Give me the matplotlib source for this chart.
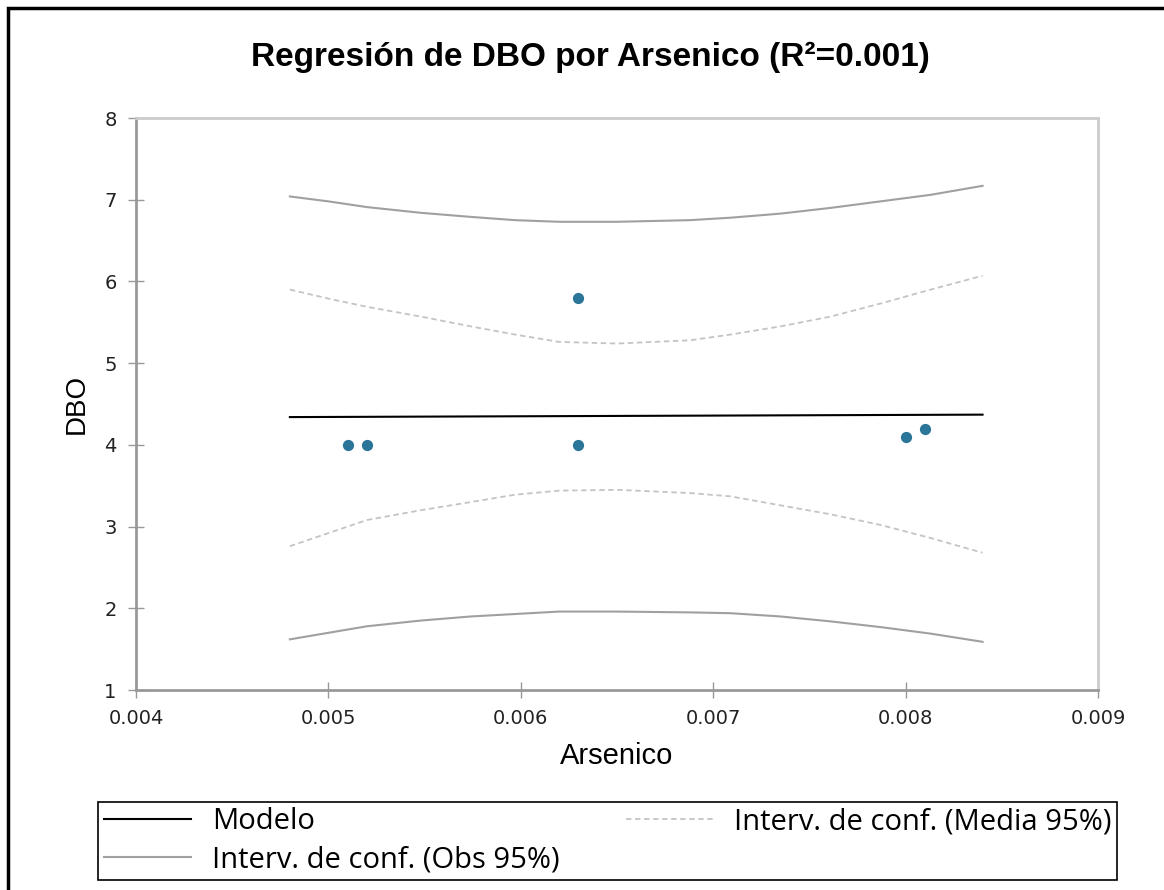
import matplotlib
matplotlib.use("Agg")
import matplotlib.pyplot as plt
from matplotlib.patches import Rectangle
from matplotlib.ticker import FormatStrFormatter

# observaciones
arsenico = [0.0051, 0.0052, 0.0063, 0.0063, 0.0080, 0.0081]
dbo = [4.0, 4.0, 5.8, 4.0, 4.1, 4.2]

# modelo y bandas
x_mod = [0.0048, 0.0084]
y_mod = [4.34, 4.37]
x_band = [0.0048, 0.0050, 0.0052, 0.00548, 0.00574, 0.00597, 0.0062, 0.0065,
          0.00688, 0.00709, 0.00735, 0.00761, 0.00787, 0.00813, 0.0084]
obs_sup = [7.04, 6.98, 6.91, 6.84, 6.79, 6.75, 6.73, 6.73,
           6.75, 6.78, 6.83, 6.90, 6.98, 7.06, 7.17]
media_sup = [5.90, 5.79, 5.69, 5.57, 5.45, 5.35, 5.26, 5.24,
             5.28, 5.35, 5.45, 5.57, 5.73, 5.90, 6.07]
media_inf = [2.76, 2.92, 3.08, 3.20, 3.30, 3.39, 3.44, 3.45,
             3.41, 3.37, 3.26, 3.15, 3.02, 2.86, 2.68]
obs_inf = [1.62, 1.70, 1.78, 1.85, 1.90, 1.93, 1.96, 1.96,
           1.95, 1.94, 1.90, 1.84, 1.77, 1.69, 1.59]

fig = plt.figure(figsize=(11.64, 8.90), dpi=100)
ax = fig.add_axes([0.1168, 0.2247, 0.8265, 0.6427])

l_mod, = ax.plot(x_mod, y_mod, color='black', lw=1.5, label='Modelo')
l_med, = ax.plot(x_band, media_sup, color='#c4c4c4', lw=1.3, ls=(0, (3, 2)),
                 label='Interv. de conf. (Media 95%)')
ax.plot(x_band, media_inf, color='#c4c4c4', lw=1.3, ls=(0, (3, 2)))
l_obs, = ax.plot(x_band, obs_sup, color='#a0a0a0', lw=1.5,
                 label='Interv. de conf. (Obs 95%)')
ax.plot(x_band, obs_inf, color='#a0a0a0', lw=1.5)
ax.scatter(arsenico, dbo, s=50, color='#2b7599', zorder=5)

ax.set_xlim(0.004, 0.009)
ax.set_ylim(1, 8)
ax.set_xticks([0.004, 0.005, 0.006, 0.007, 0.008, 0.009])
ax.set_yticks(range(1, 9))
ax.xaxis.set_major_formatter(FormatStrFormatter('%.3f'))
ax.tick_params(direction='inout', length=12, width=1, color='#999999',
               labelsize=14, labelcolor='#222222', pad=8)
for s in ['left', 'bottom']:
    ax.spines[s].set_color('#999999')
    ax.spines[s].set_linewidth(2)
for s in ['top', 'right']:
    ax.spines[s].set_color('#cccccc')
    ax.spines[s].set_linewidth(2)

ax.set_xlabel('Arsenico', fontsize=21, family='Liberation Sans', labelpad=10)
ax.set_ylabel('DBO', fontsize=20, family='Liberation Sans', labelpad=10)

fig.text(0.507, 0.935, 'Regresión de DBO por Arsenico (R²=0.001)',
         ha='center', va='center', fontsize=24, fontweight='bold',
         family='Liberation Sans')

leg = fig.legend([l_mod, l_obs, l_med],
                 ['Modelo', 'Interv. de conf. (Obs 95%)', 'Interv. de conf. (Media 95%)'],
                 loc='lower left', bbox_to_anchor=(0.0842, 0.0112, 0.8754, 0.0955),
                 mode='expand', ncol=2, fancybox=False, edgecolor='black',
                 framealpha=1, handlelength=3.0, borderaxespad=0,
                 prop={'family': 'Open Sans', 'size': 21}, labelspacing=0.3,
                 handletextpad=0.7, borderpad=0.2)
leg.get_frame().set_linewidth(1.2)

fig.patches.append(Rectangle((8 / 1164, -0.01), 1.1, 1 - 8 / 890 + 0.01,
                             transform=fig.transFigure, fill=False,
                             edgecolor='black', lw=2.5))

fig.savefig('out.png', dpi=100)
